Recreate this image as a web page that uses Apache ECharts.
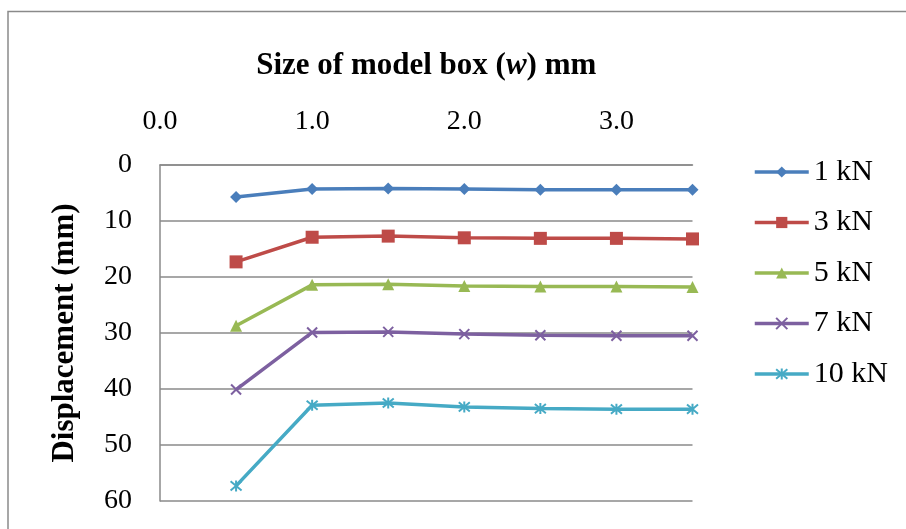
<!DOCTYPE html>
<html>
<head>
<meta charset="utf-8">
<script src="https://cdn.jsdelivr.net/npm/echarts@6/dist/echarts.min.js"></script>
<style>
html,body{margin:0;padding:0;background:#fff;}
#chart{width:906px;height:529px;}
</style>
</head>
<body>
<div id="chart"></div>
<script>
const boxSize = [0.5, 1.0, 1.5, 2.0, 2.5, 3.0, 3.5];
const seriesNames = ['1 kN', '3 kN', '5 kN', '7 kN', '10 kN'];
const disp1kN  = [5.7, 4.3, 4.2, 4.3, 4.4, 4.4, 4.4];
const disp3kN  = [17.3, 12.9, 12.7, 13.0, 13.1, 13.1, 13.2];
const disp5kN  = [28.7, 21.4, 21.3, 21.6, 21.7, 21.7, 21.8];
const disp7kN  = [40.1, 29.9, 29.8, 30.2, 30.4, 30.5, 30.5];
const disp10kN = [57.3, 42.9, 42.5, 43.2, 43.5, 43.6, 43.6];
const yTicks = [0, 10, 20, 30, 40, 50, 60];
const xTicks = [0.0, 1.0, 2.0, 3.0];

const FONT = "'Liberation Serif','Times New Roman',serif";
const colors = ['#4A7EBB', '#BE4B48', '#98B954', '#7D60A0', '#46AAC5'];
const symbols = ['diamond', 'rect', 'triangle',
  'path://M0,0L10,10M10,0L0,10',
  'path://M0,0L10,10M10,0L0,10M5,-1L5,11'];
const symSizes = [12, 13, 12, 10, 11];
const allData = [disp1kN, disp3kN, disp5kN, disp7kN, disp10kN];

const series = seriesNames.map((n, i) => {
  const isPath = i >= 3;
  return {
    name: n,
    type: 'line',
    data: boxSize.map((x, k) => [x, allData[i][k]]),
    symbol: symbols[i],
    symbolSize: symSizes[i],
    showAllSymbol: true,
    lineStyle: { color: colors[i], width: 3.5 },
    itemStyle: isPath
      ? { color: colors[i], borderColor: colors[i], borderWidth: 2 }
      : { color: colors[i], borderColor: colors[i], borderWidth: 0 },
    emphasis: { disabled: true },
    animation: false
  };
});

const chart = echarts.init(document.getElementById('chart'));
chart.setOption({
  backgroundColor: '#fff',
  animation: false,
  color: colors,
  graphic: [{
    type: 'rect',
    shape: { x: 8, y: 11.5, width: 950, height: 600 },
    style: { fill: 'none', stroke: '#8a8a8a', lineWidth: 1.5 },
    silent: true
  }],
  grid: { left: 160, top: 165, right: 213.5, bottom: 28, containLabel: false },
  legend: {
    orient: 'vertical',
    left: 748,
    top: 152,
    itemWidth: 54,
    itemHeight: 14,
    itemGap: 20.5,
    lineStyle: { width: 3.5 },
    textStyle: { fontFamily: FONT, fontSize: 30, color: '#000' },
    data: seriesNames
  },
  xAxis: {
    type: 'value',
    position: 'top',
    min: 0,
    max: 3.5,
    interval: 1,
    name: 'Size of model box ({i|w}) mm',
    nameLocation: 'middle',
    nameGap: 84,
    nameTextStyle: {
      fontFamily: FONT, fontSize: 31, fontWeight: 'bold', color: '#000',
      rich: { i: { fontFamily: FONT, fontSize: 31, fontWeight: 'bold', fontStyle: 'italic', color: '#000' } }
    },
    axisLine: { show: true, onZero: false, lineStyle: { color: '#8a8a8a', width: 1.5 } },
    axisTick: { show: false },
    splitLine: { show: false },
    axisLabel: {
      fontFamily: FONT, fontSize: 28, color: '#000', margin: 29,
      showMaxLabel: false,
      formatter: v => (xTicks.includes(v) ? v.toFixed(1) : '')
    }
  },
  yAxis: {
    type: 'value',
    inverse: true,
    min: 0,
    max: 60,
    interval: 10,
    name: 'Displacement (mm)',
    nameLocation: 'middle',
    nameGap: 80,
    nameTextStyle: { fontFamily: FONT, fontSize: 31, fontWeight: 'bold', color: '#000' },
    axisLine: { show: true, lineStyle: { color: '#8a8a8a', width: 1.5 } },
    axisTick: { show: false },
    splitLine: { show: true, lineStyle: { color: '#8a8a8a', width: 1.5 } },
    axisLabel: {
      fontFamily: FONT, fontSize: 28, color: '#000', margin: 28,
      formatter: v => (yTicks.includes(v) ? String(v) : '')
    }
  },
  series: series
});
</script>
</body>
</html>
